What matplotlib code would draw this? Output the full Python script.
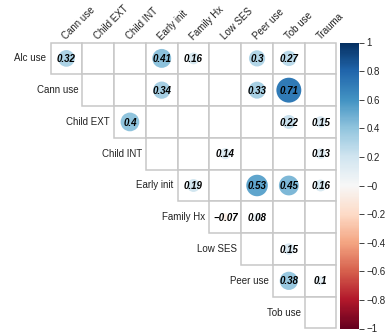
import numpy as np
import matplotlib.pyplot as plt
from matplotlib.patches import Circle, Rectangle
from matplotlib.colors import Normalize
from matplotlib.colorbar import ColorbarBase

plt.rcParams['font.family'] = ['Liberation Sans', 'DejaVu Sans']

row_names = ['Alc use', 'Cann use', 'Child EXT', 'Child INT', 'Early init',
             'Family Hx', 'Low SES', 'Peer use', 'Tob use']
col_names = ['Cann use', 'Child EXT', 'Child INT', 'Early init', 'Family Hx',
             'Low SES', 'Peer use', 'Tob use', 'Trauma']

nan = np.nan
# significant correlations only, blank where not significant
corr = np.array([
    [0.32, nan, nan, 0.41, 0.16, nan, 0.3, 0.27, nan],
    [nan, nan, nan, 0.34, nan, nan, 0.33, 0.71, nan],
    [nan, nan, 0.4, nan, nan, nan, nan, 0.22, 0.15],
    [nan, nan, nan, nan, nan, 0.14, nan, nan, 0.13],
    [nan, nan, nan, nan, 0.19, nan, 0.53, 0.45, 0.16],
    [nan, nan, nan, nan, nan, -0.07, 0.08, nan, nan],
    [nan, nan, nan, nan, nan, nan, nan, 0.15, nan],
    [nan, nan, nan, nan, nan, nan, nan, 0.38, 0.1],
    [nan, nan, nan, nan, nan, nan, nan, nan, nan],
])

cmap = plt.get_cmap('RdBu')
norm = Normalize(-1, 1)

W, H = 387, 333
fig = plt.figure(figsize=(W / 100, H / 100), dpi=100)
ax = fig.add_axes([50.5 / W, 4.5 / H, 286 / W, 286 / H])
ax.set_xlim(0, 9)
ax.set_ylim(9, 0)
ax.axis('off')

n = len(row_names)
for i in range(n):
    for j in range(i, n):
        ax.add_patch(Rectangle((j, i), 1, 1, facecolor='white',
                               edgecolor='#c8c8c8', lw=1.1, clip_on=False))
for i in range(n):
    for j in range(i, n):
        v = corr[i, j]
        if np.isnan(v):
            continue
        r = 0.93 * np.sqrt(abs(v)) / 2
        ax.add_patch(Circle((j + 0.5, i + 0.5), r, facecolor=cmap(norm(v)),
                            edgecolor='none', clip_on=False, zorder=3))
        txt = f'{v:g}'.replace('-', '\u2212')
        ax.text(j + 0.5, i + 0.52, txt, ha='center', va='center',
                fontsize=7, fontweight='bold', fontstyle='italic',
                color='black', zorder=4)

for i, name in enumerate(row_names):
    ax.text(i - 0.13, i + 0.5, name, ha='right', va='center',
            fontsize=7, color='#222222')

for j, name in enumerate(col_names):
    ax.text(j + 0.5, -0.07, name, ha='left', va='baseline', rotation=45,
            rotation_mode='anchor', fontsize=7, color='#222222')

cax = fig.add_axes([340 / W, 4.5 / H, 19 / W, 286 / H])
cb = ColorbarBase(cax, cmap=cmap, norm=norm, orientation='vertical')
cb.outline.set_visible(False)
ticks = np.round(np.arange(-1, 1.01, 0.2), 1)
cb.set_ticks(ticks)
cb.set_ticklabels([f'{t:g}'.replace('-', '\u2212') for t in ticks])
cax.tick_params(labelsize=7, length=3.5, width=0.6, pad=2, colors='#222222')

fig.savefig('out.png', dpi=100)
